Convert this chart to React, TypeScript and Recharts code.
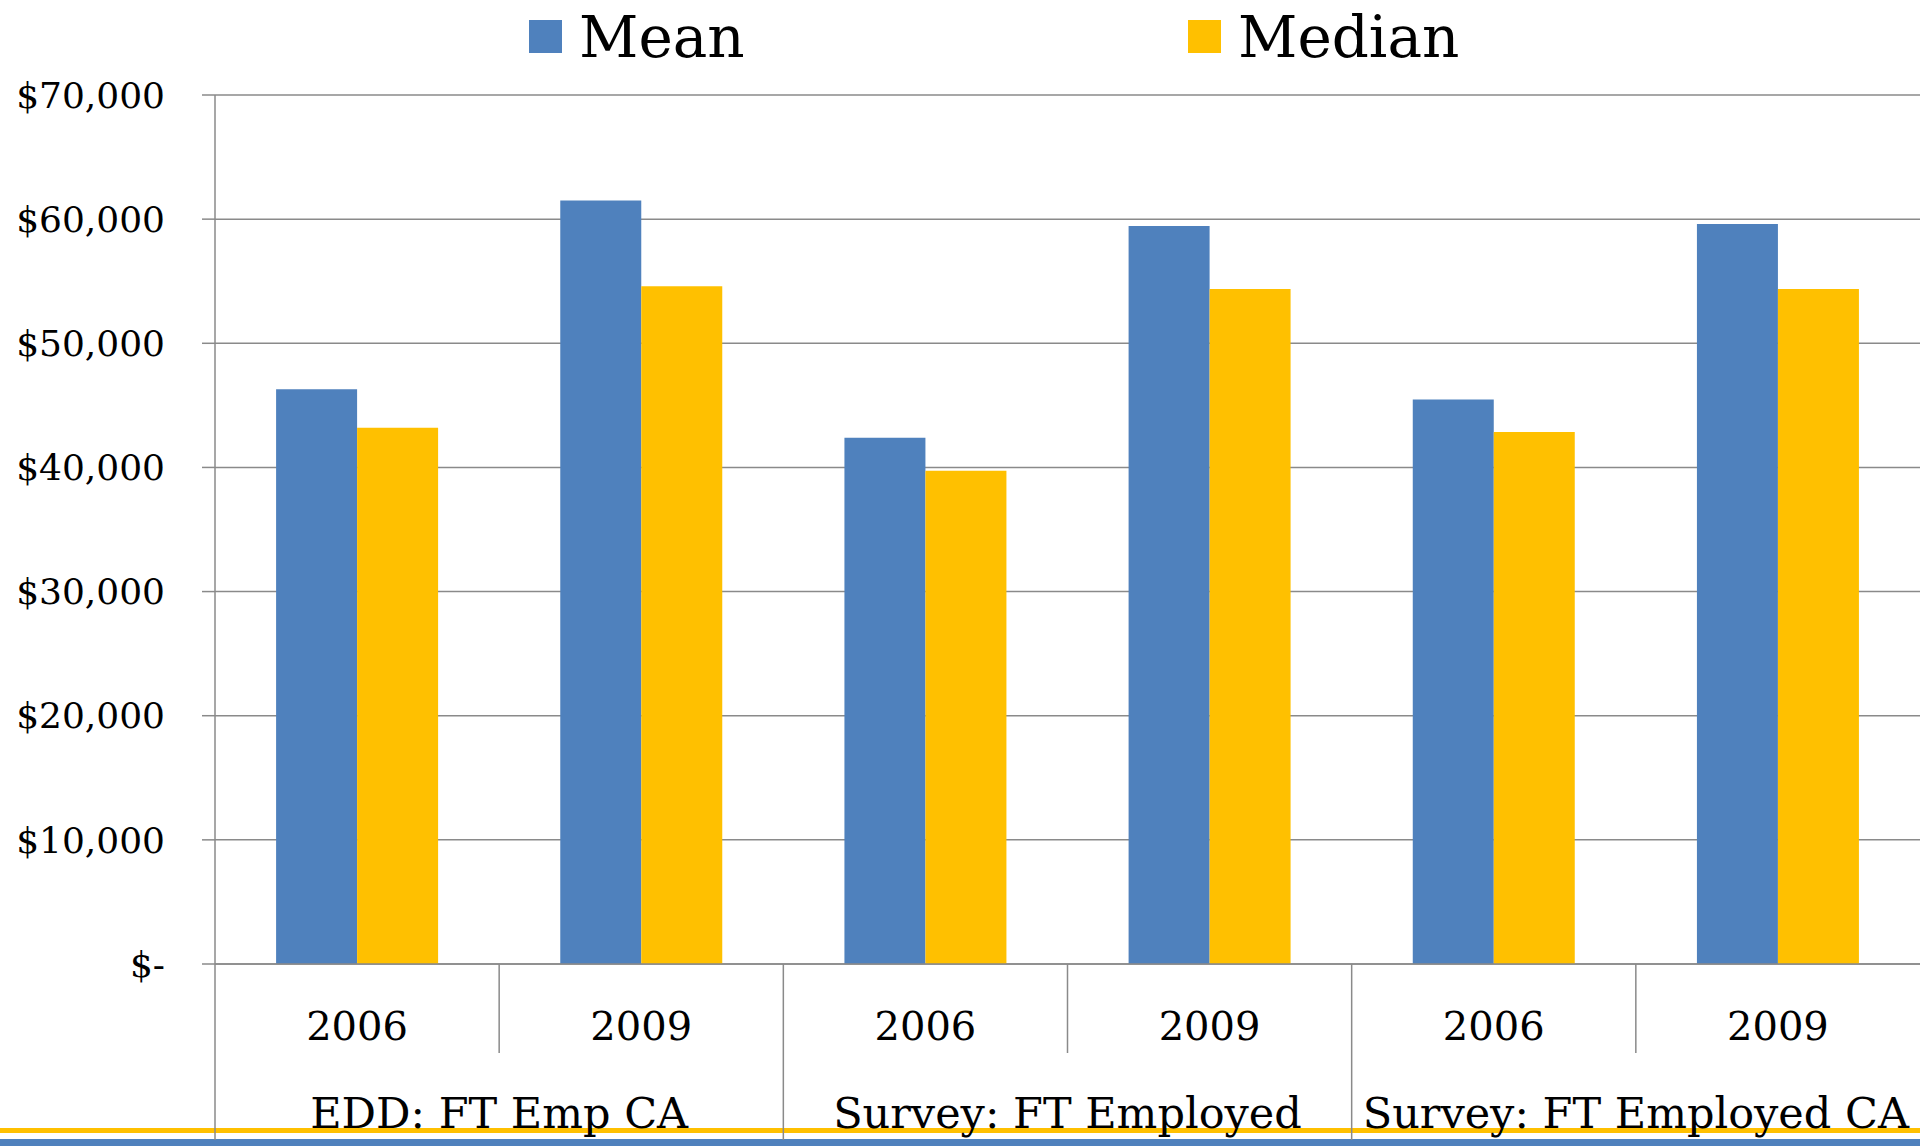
import React from "react";
import { BarChart, Bar, XAxis, YAxis, CartesianGrid, Legend } from "recharts";

const years = ["2006", "2009", "2006", "2009", "2006", "2009"];
const groups = [
  "EDD: FT Emp CA",
  "EDD: FT Emp CA",
  "Survey: FT Employed",
  "Survey: FT Employed",
  "Survey: FT Employed CA",
  "Survey: FT Employed CA",
];
const meanValues = [46300, 61500, 42400, 59450, 45480, 59600];
const medianValues = [43200, 54600, 39730, 54370, 42850, 54370];
const yTicks = [0, 10000, 20000, 30000, 40000, 50000, 60000, 70000];

const seriesNames = { mean: "Mean", median: "Median" };
const colors = { mean: "#4F81BD", median: "#FFC000" };

const data = years.map((y, i) => ({
  year: y,
  group: groups[i],
  mean: meanValues[i],
  median: medianValues[i],
}));

const FONT = "'DejaVu Serif', serif";
const GRAY = "#8a8a8a";

const fmt = (v: number) => (v === 0 ? "$-" : "$" + v.toLocaleString("en-US"));

const YearTick = (props: any) => {
  const { x, y, payload, index } = props;
  const half = payload && payload.offset != null ? payload.offset : 142;
  const long = index % 2 === 0;
  return (
    <g>
      <line x1={x - half} x2={x - half} y1={y} y2={y + (long ? 176 : 89)} stroke={GRAY} strokeWidth={1.5} />
      <text x={x} y={y + 76} textAnchor="middle" fontFamily={FONT} fontSize={40} fill="#000">
        {payload.value}
      </text>
    </g>
  );
};

const GroupTick = (props: any) => {
  const { x, y, payload } = props;
  return (
    <text x={x} y={y + 64} textAnchor="middle" fontFamily={FONT} fontSize={43} fill="#000">
      {payload.value}
    </text>
  );
};

const legendX = [529, 1188];

const LegendContent = (props: any) => {
  const { payload } = props;
  return (
    <svg width={1920} height={80} style={{ display: "block" }}>
      {(payload || []).map((p: any, i: number) => (
        <g key={p.value}>
          <rect x={legendX[i]} y={20} width={33} height={33} fill={p.color} />
          <text x={legendX[i] + 50} y={57} fontFamily={FONT} fontSize={58} fill="#000">
            {p.value}
          </text>
        </g>
      ))}
    </svg>
  );
};

export default function App() {
  return (
    <div style={{ position: "absolute", left: 0, top: 0, width: 1920, height: 1146, background: "#fff", overflow: "hidden" }}>
      <div style={{ position: "absolute", left: 0, top: 1128, width: 1920, height: 5, background: colors.median }} />
      <div style={{ position: "absolute", left: 0, top: 1139, width: 1920, height: 7, background: colors.mean }} />
      <div style={{ position: "absolute", left: 0, top: 0 }}>
        <BarChart
          width={1920}
          height={1146}
          data={data}
          margin={{ top: 95, right: 0, bottom: 0, left: 0 }}
          barCategoryGap="21.5%"
          barGap={0}
        >
          <CartesianGrid xAxisId="a_year" vertical={false} stroke={GRAY} strokeWidth={1.5} />
          <XAxis
            xAxisId="b_group"
            dataKey="group"
            allowDuplicatedCategory={false}
            height={82}
            tickLine={false}
            tickSize={0}
            tickMargin={0}
            axisLine={false}
            tick={<GroupTick />}
            interval={0}
          />
          <XAxis
            xAxisId="a_year"
            dataKey="year"
            height={100}
            tickLine={false}
            tickSize={0}
            tickMargin={0}
            axisLine={{ stroke: GRAY, strokeWidth: 1.5 }}
            tick={<YearTick />}
            interval={0}
          />
          <YAxis
            width={215}
            domain={[0, 70000]}
            ticks={yTicks}
            tickFormatter={fmt}
            tickSize={13}
            tickMargin={37}
            tickLine={{ stroke: GRAY, strokeWidth: 1.5 }}
            axisLine={{ stroke: GRAY, strokeWidth: 1.5 }}
            tick={{ fontFamily: FONT, fontSize: 36, fill: "#000" }}
            interval={0}
          />
          <Legend
            layout="horizontal"
            verticalAlign="middle"
            align="center"
            wrapperStyle={{ position: "absolute", top: 0, left: 0, width: 1920, height: 80 }}
            content={<LegendContent />}
          />
          <Bar xAxisId="a_year" dataKey="mean" name={seriesNames.mean} fill={colors.mean} isAnimationActive={false} />
          <Bar xAxisId="a_year" dataKey="median" name={seriesNames.median} fill={colors.median} isAnimationActive={false} />
        </BarChart>
      </div>
    </div>
  );
}
